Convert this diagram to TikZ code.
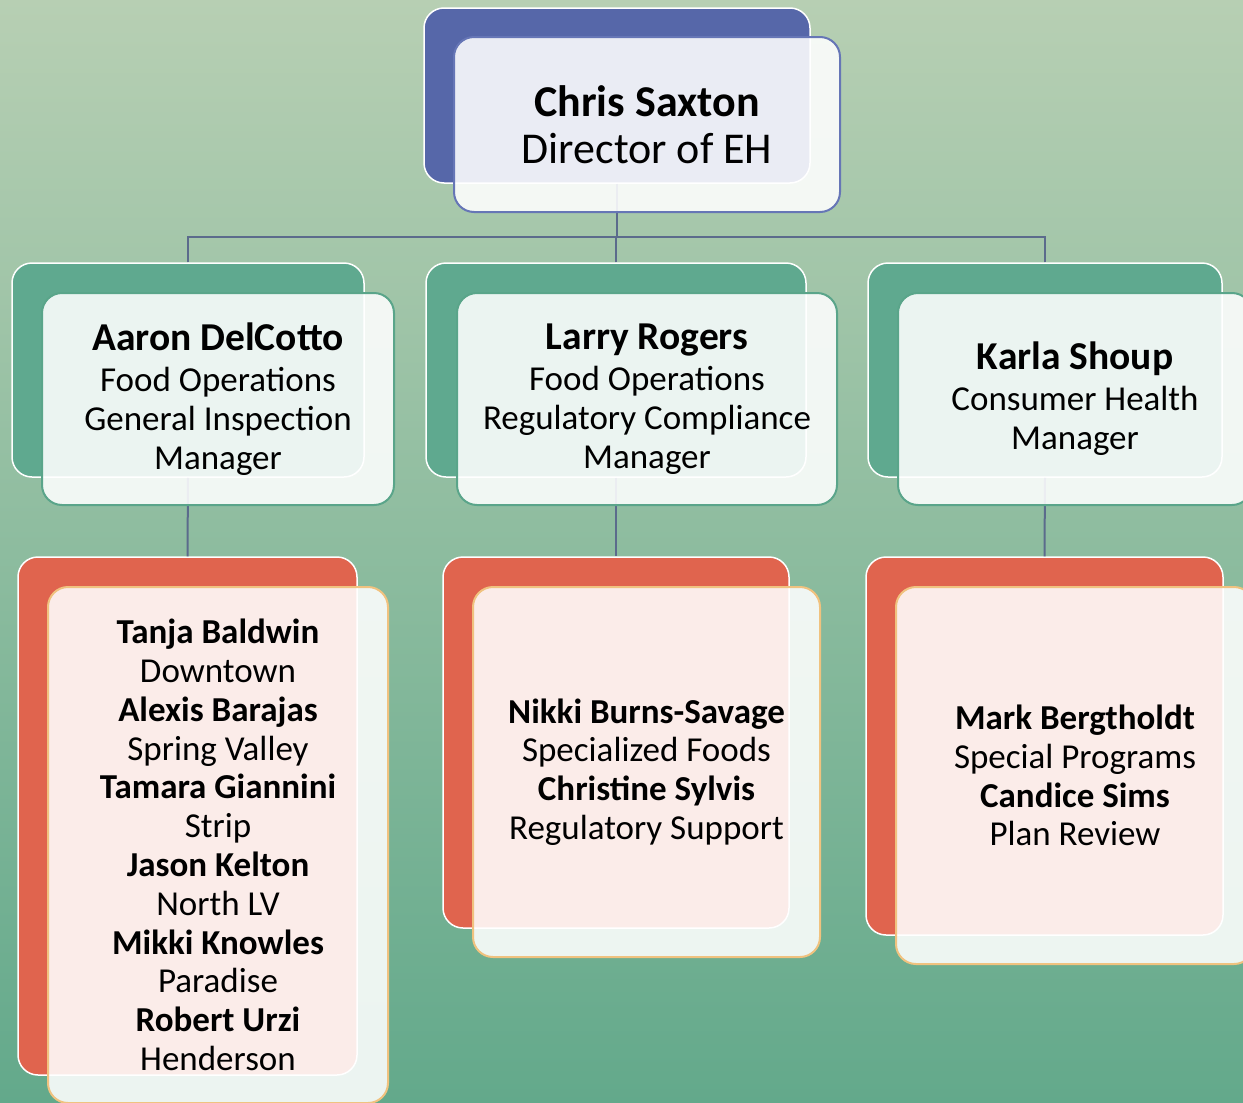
\documentclass[tikz,border=0pt]{standalone}
\usepackage{fontspec}
\setmainfont{Carlito}
\usepackage{tikz}
\usetikzlibrary{positioning}
\definecolor{bgtop}{HTML}{B7CFB3}
\definecolor{bgmid}{HTML}{A3C3A0}
\definecolor{bgbot}{HTML}{63A98B}
\definecolor{dirblue}{HTML}{5667A9}
\definecolor{dirline}{HTML}{6676B6}
\definecolor{mgrteal}{HTML}{5FA98F}
\definecolor{mgrline}{HTML}{5AA58A}
\definecolor{staffred}{HTML}{E0644E}
\definecolor{staffline}{HTML}{F0C27F}
\definecolor{linkgray}{HTML}{5B6B8C}
\newcommand{\mgrname}[1]{{\fontsize{39.5}{39}\selectfont\textbf{#1}}}

\begin{document}
\begin{tikzpicture}[x=1pt, y=-1pt,
  back/.style={draw=white, line width=1.5pt, rounded corners=20pt, inner sep=0pt},
  front/.style={fill=white, fill opacity=0.88, text opacity=1, line width=2pt,
                rounded corners=20pt, inner sep=0pt, align=center, text=black},
  dirbox/.style={back, fill=dirblue, minimum width=386pt, minimum height=175pt},
  dirfront/.style={front, draw=dirline, minimum width=386pt, minimum height=175pt,
                   font=\fontsize{44}{47}\selectfont},
  mgrbox/.style={back, fill=mgrteal, minimum height=214pt},
  mgrfront/.style={front, draw=mgrline, minimum height=212pt,
                   font=\fontsize{35}{39}\selectfont},
  staffbox/.style={back, fill=staffred},
  stafffront/.style={front, draw=staffline,
                     font=\fontsize{35}{38.8}\selectfont},
  link/.style={draw=linkgray, line width=2pt}
]
\useasboundingbox (0,0) rectangle (1243,1103);
\clip (0,0) rectangle (1243,1103);
\shade[top color=bgtop, middle color=bgmid, bottom color=bgbot] (0,0) rectangle (1243,1103);

% Back boxes
\node[dirbox] (chrisB) at (617,95.5) {};
\node[mgrbox, minimum width=352pt] (aaronB) at (188,370) {};
\node[mgrbox, minimum width=380pt] (larryB) at (616,370) {};
\node[mgrbox, minimum width=354pt] (karlaB) at (1045,370) {};
\node[staffbox, minimum width=339pt, minimum height=518pt] (westB) at (187.5,816) {};
\node[staffbox, minimum width=346pt, minimum height=371pt] (foodsB) at (616,742.5) {};
\node[staffbox, minimum width=357pt, minimum height=378pt] (progB) at (1044.5,746) {};

% Links
\coordinate (bus) at (617,237);
\draw[link] (chrisB.south) -- (bus);
\draw[link] (aaronB.north) |- (bus);
\draw[link] (larryB.north) -- (larryB.north |- bus);
\draw[link] (karlaB.north) |- (bus);
\draw[link] (aaronB.south) -- (westB.north);
\draw[link] (larryB.south) -- (foodsB.north);
\draw[link] (karlaB.south) -- (progB.north);

% Director
\node[dirfront] (chris) at (647,124.5) {\textbf{Chris Saxton}\\Director of EH};

% Managers
\node[mgrfront, minimum width=352pt] (aaron) at (218,399)
  {\mgrname{Aaron DelCotto}\\[2pt]Food Operations\\General Inspection\\Manager};
\node[mgrfront, minimum width=380pt] (larry) at (647,399)
  {\mgrname{Larry Rogers}\\[2pt]Food Operations\\Regulatory Compliance\\Manager};
\node[mgrfront, minimum width=354pt] (karla) at (1075,399)
  {\mgrname{Karla Shoup}\\[2pt]Consumer Health\\Manager};

% Staff
\node[stafffront, minimum width=340pt, minimum height=516pt] (west) at (218,845)
  {\textbf{Tanja Baldwin}\\Downtown\\\textbf{Alexis Barajas}\\Spring Valley\\
   \textbf{Tamara Giannini}\\Strip\\\textbf{Jason Kelton}\\North LV\\
   \textbf{Mikki Knowles}\\Paradise\\\textbf{Robert Urzi}\\Henderson};
\node[stafffront, minimum width=347pt, minimum height=370pt] (foods) at (646.5,772)
  {\textbf{Nikki Burns-Savage}\\Specialized Foods\\\textbf{Christine Sylvis}\\Regulatory Support};
\node[stafffront, minimum width=358pt, minimum height=377pt] (prog) at (1075,775.5)
  {\textbf{Mark Bergtholdt}\\Special Programs\\\textbf{Candice Sims}\\Plan Review};

\end{tikzpicture}
\end{document}
